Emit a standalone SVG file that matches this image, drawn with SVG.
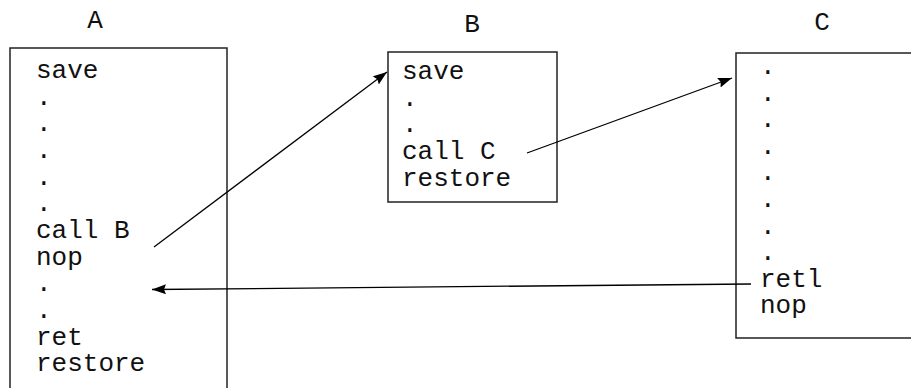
<svg xmlns="http://www.w3.org/2000/svg" width="911" height="388" viewBox="0 0 911 388">
  <style>
    .box { fill: none; stroke: #222; stroke-width: 1.5; }
    .code { font-family: "Liberation Mono", "Courier New", monospace; font-size: 26px; fill: #111; }
    .title { font-family: "Liberation Mono", "Courier New", monospace; font-size: 26px; fill: #111; text-anchor: middle; }
    .link { fill: none; stroke: #000; stroke-width: 1.3; }
  </style>
  <defs>
    <marker id="head" markerUnits="userSpaceOnUse" markerWidth="16" markerHeight="12" refX="14" refY="5" orient="auto">
      <path d="M0,0 L14,5 L0,10 L2,5 Z" fill="#000"/>
    </marker>
  </defs>
  <rect width="911" height="388" fill="#fff"/>

  <!-- routine A -->
  <g id="nodeA">
    <text class="title" x="95" y="28">A</text>
    <path class="box" d="M10,400 L10,48 L227,48 L227,400"/>
    <text class="code" x="36" y="78">save</text>
    <text class="code" x="36" y="104.7">.</text>
    <text class="code" x="36" y="131.4">.</text>
    <text class="code" x="36" y="158">.</text>
    <text class="code" x="36" y="184.7">.</text>
    <text class="code" x="36" y="211.4">.</text>
    <text class="code" x="36" y="238">call B</text>
    <text class="code" x="36" y="264.7">nop</text>
    <text class="code" x="36" y="291.4">.</text>
    <text class="code" x="36" y="318">.</text>
    <text class="code" x="36" y="344.7">ret</text>
    <text class="code" x="36" y="371.4">restore</text>
  </g>

  <!-- routine B -->
  <g id="nodeB">
    <text class="title" x="472" y="32">B</text>
    <rect class="box" x="388" y="52" width="169" height="150"/>
    <text class="code" x="402" y="79">save</text>
    <text class="code" x="402" y="105.7">.</text>
    <text class="code" x="402" y="132.4">.</text>
    <text class="code" x="402" y="159">call C</text>
    <text class="code" x="402" y="185.7">restore</text>
  </g>

  <!-- routine C -->
  <g id="nodeC">
    <text class="title" x="822" y="30">C</text>
    <path class="box" d="M920,53 L736,53 L736,338 L920,338"/>
    <text class="code" x="760" y="74">.</text>
    <text class="code" x="760" y="100.6">.</text>
    <text class="code" x="760" y="127.2">.</text>
    <text class="code" x="760" y="153.8">.</text>
    <text class="code" x="760" y="180.4">.</text>
    <text class="code" x="760" y="207">.</text>
    <text class="code" x="760" y="233.6">.</text>
    <text class="code" x="760" y="260.2">.</text>
    <text class="code" x="760" y="286.8">retl</text>
    <text class="code" x="760" y="313.4">nop</text>
  </g>

  <!-- calls and return -->
  <g id="connectors">
    <line class="link" x1="154" y1="247" x2="387" y2="72" marker-end="url(#head)"/>
    <line class="link" x1="527" y1="153" x2="732" y2="78" marker-end="url(#head)"/>
    <line class="link" x1="751" y1="284" x2="152" y2="289.5" marker-end="url(#head)"/>
  </g>
</svg>
